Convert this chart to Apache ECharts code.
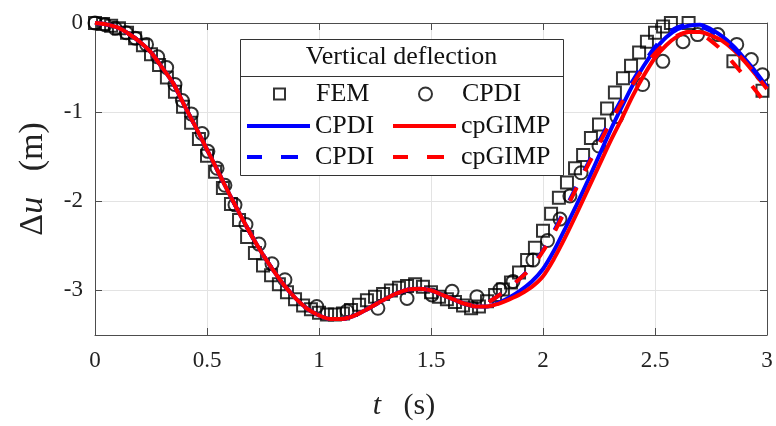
<!DOCTYPE html>
<html>
<head>
<meta charset="utf-8">
<script src="https://cdn.jsdelivr.net/npm/echarts@6/dist/echarts.min.js"></script>
<style>
html,body{margin:0;padding:0;background:#fff;}
#chart{width:776px;height:426px;}
</style>
</head>
<body>
<div id="chart"></div>
<script>
// time grid for the simulation curves (s)
const tLine = [0,0.05,0.10,0.15,0.20,0.25,0.30,0.35,0.40,0.45,0.50,0.55,0.60,0.65,0.70,0.75,0.80,0.85,0.90,0.95,
  1.00,1.05,1.10,1.15,1.20,1.25,1.30,1.35,1.40,1.45,1.50,1.55,1.60,1.65,1.70,1.75,1.80,1.85,1.90,1.95,
  2.00,2.05,2.10,2.15,2.20,2.25,2.30,2.35,2.40,2.45,2.50,2.55,2.60,2.65,2.70,2.75,2.80,2.85,2.90,2.95,3.00];

// CPDI solid (blue)
const cpdiSolid = [0,-0.015,-0.05,-0.12,-0.21,-0.33,-0.50,-0.68,-0.93,-1.17,-1.42,-1.67,-1.92,-2.16,-2.39,-2.60,-2.79,-2.96,-3.10,-3.21,
  -3.28,-3.32,-3.32,-3.29,-3.23,-3.16,-3.09,-3.03,-2.99,-2.98,-3.00,-3.05,-3.10,-3.15,-3.18,-3.18,-3.14,-3.08,-3.00,-2.90,
  -2.76,-2.55,-2.30,-2.04,-1.77,-1.49,-1.21,-0.95,-0.70,-0.48,-0.30,-0.16,-0.07,-0.03,-0.02,-0.07,-0.15,-0.26,-0.40,-0.55,-0.72];

// cpGIMP solid (red)
const gimpSolid = [0,-0.015,-0.05,-0.12,-0.21,-0.33,-0.50,-0.68,-0.93,-1.17,-1.42,-1.67,-1.92,-2.16,-2.39,-2.60,-2.79,-2.96,-3.10,-3.21,
  -3.28,-3.32,-3.32,-3.29,-3.23,-3.16,-3.09,-3.03,-2.99,-2.98,-3.00,-3.05,-3.10,-3.15,-3.18,-3.18,-3.15,-3.10,-3.04,-2.96,
  -2.84,-2.64,-2.40,-2.14,-1.87,-1.60,-1.33,-1.08,-0.82,-0.59,-0.39,-0.25,-0.15,-0.10,-0.10,-0.14,-0.20,-0.30,-0.43,-0.58,-0.74];

// CPDI dashed (blue)
const cpdiDashed = [0,-0.015,-0.05,-0.12,-0.21,-0.33,-0.50,-0.68,-0.93,-1.17,-1.42,-1.67,-1.92,-2.16,-2.39,-2.60,-2.79,-2.96,-3.10,-3.21,
  -3.28,-3.32,-3.32,-3.29,-3.23,-3.16,-3.09,-3.03,-2.99,-2.98,-3.00,-3.05,-3.10,-3.15,-3.17,-3.14,-3.06,-2.97,-2.86,-2.73,
  -2.55,-2.33,-2.08,-1.83,-1.58,-1.33,-1.09,-0.86,-0.65,-0.45,-0.27,-0.13,-0.05,-0.02,-0.04,-0.09,-0.17,-0.28,-0.41,-0.56,-0.72];

// cpGIMP dashed (red)
const gimpDashed = [0,-0.015,-0.05,-0.12,-0.21,-0.33,-0.50,-0.68,-0.93,-1.17,-1.42,-1.67,-1.92,-2.16,-2.39,-2.60,-2.79,-2.96,-3.10,-3.21,
  -3.28,-3.32,-3.32,-3.29,-3.23,-3.16,-3.09,-3.03,-2.99,-2.98,-3.00,-3.05,-3.10,-3.15,-3.17,-3.14,-3.06,-2.97,-2.86,-2.74,
  -2.56,-2.35,-2.10,-1.85,-1.60,-1.36,-1.12,-0.90,-0.69,-0.50,-0.34,-0.22,-0.14,-0.10,-0.12,-0.20,-0.31,-0.45,-0.60,-0.76,-0.92];

// FEM reference (squares)
const femT = [0,0.036,0.072,0.107,0.143,0.179,0.214,0.250,0.286,0.321,0.357,0.393,0.429,0.464,0.500,0.536,0.571,0.607,0.643,0.679,
  0.714,0.750,0.786,0.821,0.857,0.893,0.929,0.964,1.000,1.036,1.071,1.107,1.143,1.179,1.214,1.250,1.286,1.321,1.357,1.393,
  1.429,1.464,1.500,1.536,1.571,1.607,1.643,1.679,1.714,1.750,1.786,1.821,1.857,1.893,1.929,1.964,2.000,2.036,2.071,2.107,
  2.143,2.179,2.214,2.250,2.286,2.321,2.357,2.393,2.429,2.464,2.500,2.536,2.571,2.650,2.850,2.980];
const femV = [0,-0.01,-0.03,-0.06,-0.11,-0.17,-0.25,-0.35,-0.47,-0.61,-0.77,-0.94,-1.12,-1.30,-1.49,-1.67,-1.85,-2.03,-2.21,-2.40,
  -2.58,-2.72,-2.83,-2.93,-3.02,-3.10,-3.17,-3.21,-3.25,-3.27,-3.27,-3.26,-3.22,-3.16,-3.11,-3.07,-3.04,-3.00,-2.97,-2.95,
  -2.93,-2.96,-3.02,-3.07,-3.10,-3.13,-3.17,-3.20,-3.18,-3.12,-3.05,-2.99,-2.91,-2.80,-2.66,-2.52,-2.33,-2.14,-1.96,-1.79,
  -1.63,-1.48,-1.29,-1.14,-0.96,-0.78,-0.62,-0.48,-0.33,-0.21,-0.11,-0.04,0.00,0.00,-0.43,-0.76];

// CPDI markers (circles)
const cpdiMkT = [0,0.045,0.09,0.14,0.18,0.23,0.28,0.32,0.357,0.39,0.43,0.478,0.504,0.545,0.58,0.625,0.674,0.732,0.79,0.848,
  0.99,1.125,1.263,1.393,1.504,1.594,1.705,1.808,1.866,1.955,2.02,2.076,2.12,2.17,2.25,2.33,2.445,2.535,2.625,2.69,
  2.78,2.865,2.93,2.98];
const cpdiMkV = [0,-0.02,-0.06,-0.11,-0.17,-0.24,-0.38,-0.50,-0.69,-0.87,-1.02,-1.24,-1.44,-1.63,-1.82,-2.04,-2.26,-2.48,-2.70,-2.88,
  -3.18,-3.23,-3.20,-3.09,-3.05,-3.01,-3.07,-2.99,-2.90,-2.66,-2.44,-2.20,-1.94,-1.68,-1.38,-1.05,-0.69,-0.43,-0.21,-0.13,
  -0.13,-0.24,-0.41,-0.58];

// axis ticks
const xTicks = [0,0.5,1,1.5,2,2.5,3];
const yTicks = [-3,-2,-1,0];

const zip = (a,b) => a.map((v,i) => [v,b[i]]);

const FONT = 'Liberation Serif';
const AX = '#4d4d4d';
const DASH = [15,18];
const SOLID_ICON = 'path://M0,0H63V4H0Z';
const DASH_ICON = 'path://M0,0H15V4H0Z M34,0H51V4H34Z M63,0 M63,4';
const LFS = 26;

function legendText(spacer){
  return {fontFamily: FONT, fontSize: LFS, color: '#111', lineHeight: 28,
    rich:{s:{width:spacer, fontSize:LFS, lineHeight:28}, t:{fontFamily:FONT, fontSize:LFS, color:'#111', lineHeight:28}}};
}
// line entries: 63px line icon
function lineLegend(name, label, left, centerY, icon){
  return {
    data:[{name:name, icon:icon}], left: left, top: centerY - 14, padding: 0, itemWidth: 63, itemHeight: 4,
    selectedMode: false, textStyle: legendText(0), z: 10, symbolKeepAspect:false,
    formatter: () => label
  };
}
// marker entries: marker centred in the 63px slot, text after it
function markLegend(name, label, slotLeft, centerY, size){
  const left = slotLeft + 31.5 - size/2;
  const spacer = slotLeft + 68 - (left + size + 5);
  return {
    data:[name], left: left, top: centerY - 14, padding: 0, itemWidth: size, itemHeight: size,
    selectedMode: false, textStyle: legendText(spacer), z: 10,
    formatter: () => '{s|}{t|' + label + '}'
  };
}

const chart = echarts.init(document.getElementById('chart'), null, {renderer:'canvas'});
const baseAxis = {
  axisLine:{show:true, onZero:false, lineStyle:{color:AX, width:1}},
  axisTick:{show:true, inside:true, length:7, lineStyle:{color:AX, width:1}},
};
chart.setOption({
  animation:false,
  backgroundColor:'#fff',
  grid:{left:95, right:9, top:23, bottom:87, containLabel:false},
  xAxis:[{
    type:'value', min:0, max:3, interval:0.5, position:'bottom',
    ...baseAxis,
    axisLabel:{color:'#222', fontFamily:FONT, fontSize:23, margin:14,
      formatter: v => xTicks.includes(v) ? String(v) : ''},
    splitLine:{show:true, lineStyle:{color:'#e3e3e3', width:1}},
    name:'{i|t}   (s)', nameLocation:'middle', nameGap:56,
    nameTextStyle:{fontFamily:FONT, fontSize:30, color:'#222', padding:[0,54,0,0],
      rich:{i:{fontFamily:FONT, fontSize:30, fontStyle:'italic', color:'#222'}}}
  },{
    type:'value', min:0, max:3, interval:0.5, position:'top',
    ...baseAxis, axisLabel:{show:false}, splitLine:{show:false}
  }],
  yAxis:[{
    type:'value', min:-3.5, max:0, splitNumber:4, position:'left',
    ...baseAxis,
    axisLabel:{color:'#222', fontFamily:FONT, fontSize:23, margin:12,
      formatter: v => yTicks.includes(v) ? String(v) : ''},
    splitLine:{show:true, lineStyle:{color:'#e3e3e3', width:1}},
    name:'{n|Δ}{i|u}   (m)', nameLocation:'middle', nameGap:45, nameRotate:90,
    nameTextStyle:{fontFamily:FONT, fontSize:34, color:'#222',
      rich:{n:{fontFamily:FONT, fontSize:34, color:'#222'}, i:{fontFamily:FONT, fontSize:34, fontStyle:'italic', color:'#222'}}}
  },{
    type:'value', min:-3.5, max:0, splitNumber:4, position:'right',
    ...baseAxis, axisLabel:{show:false}, splitLine:{show:false}
  }],
  legend:[
    markLegend('FEM','FEM',247,94,11),
    markLegend('CPDI (markers)','CPDI',393,94,13),
    lineLegend('CPDI','CPDI',247,126,SOLID_ICON),
    lineLegend('cpGIMP','cpGIMP',393,126,SOLID_ICON),
    lineLegend('CPDI (dashed)','CPDI',247,157,DASH_ICON),
    lineLegend('cpGIMP (dashed)','cpGIMP',393,157,DASH_ICON)
  ],
  graphic:[
    {type:'rect', z:5, shape:{x:240.5, y:39.5, width:323, height:136},
      style:{fill:'#fff', stroke:'#333', lineWidth:1}},
    {type:'line', z:6, shape:{x1:240.5, y1:76.5, x2:563.5, y2:76.5},
      style:{stroke:'#333', lineWidth:1}},
    {type:'text', z:6, x:401.5, y:57,
      style:{text:'Vertical deflection', fontFamily:FONT, fontSize:LFS, fill:'#111',
        textAlign:'center', textVerticalAlign:'middle'}}
  ],
  series:[
    {name:'FEM', type:'scatter', data:zip(femT,femV), symbol:'rect', symbolSize:12, clip:false, z:2,
      itemStyle:{color:'rgba(0,0,0,0)', borderColor:'#000', borderWidth:2}},
    {name:'CPDI (markers)', type:'scatter', data:zip(cpdiMkT,cpdiMkV), symbol:'circle', symbolSize:13, clip:false, z:2,
      itemStyle:{color:'rgba(0,0,0,0)', borderColor:'#000', borderWidth:2}},
    {name:'CPDI', type:'line', data:zip(tLine,cpdiSolid), symbol:'none', smooth:0.3, z:3,
      lineStyle:{color:'#0000ff', width:4}, itemStyle:{color:'#0000ff'}},
    {name:'cpGIMP', type:'line', data:zip(tLine,gimpSolid), symbol:'none', smooth:0.3, z:3,
      lineStyle:{color:'#ff0000', width:4}, itemStyle:{color:'#ff0000'}},
    {name:'CPDI (dashed)', type:'line', data:zip(tLine,cpdiDashed), symbol:'none', smooth:0.3, z:3,
      lineStyle:{color:'#0000ff', width:4, type:DASH, cap:'butt'}, itemStyle:{color:'#0000ff'}},
    {name:'cpGIMP (dashed)', type:'line', data:zip(tLine,gimpDashed), symbol:'none', smooth:0.3, z:3,
      lineStyle:{color:'#ff0000', width:4, type:DASH, cap:'butt'}, itemStyle:{color:'#ff0000'}}
  ]
});
</script>
</body>
</html>
